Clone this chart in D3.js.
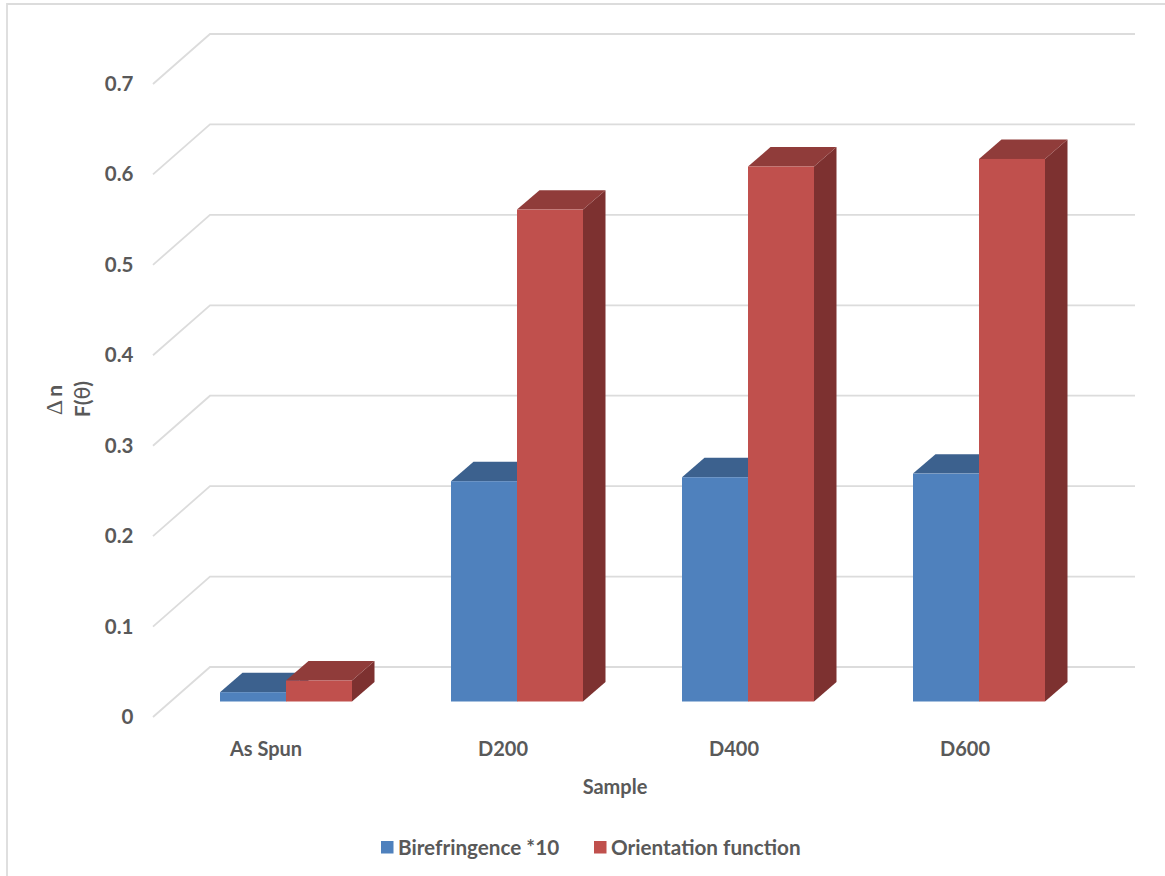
<!DOCTYPE html>
<html>
<head>
<meta charset="utf-8">
<script src="https://cdn.jsdelivr.net/npm/d3@7/dist/d3.min.js"></script>
<style>
  html, body { margin: 0; padding: 0; background: #fff; }
  svg { display: block; }
  text { font-family: Lato, "Open Sans", sans-serif; font-weight: 700; fill: #595959; }
</style>
</head>
<body>
<svg id="chart" width="1165" height="876"></svg>
<script>
const categories = ["As Spun", "D200", "D400", "D600"];
const birefringence = [0.0103, 0.2436, 0.248, 0.252];
const orientation = [0.0232, 0.544, 0.5916, 0.600];
const yTicks = [0, 0.1, 0.2, 0.3, 0.4, 0.5, 0.6, 0.7];
const seriesNames = ["Birefringence *10", "Orientation function"];

const svg = d3.select("#chart");

// Frame of the chart area
svg.append("path")
  .attr("d", "M7,876V4H1165")
  .attr("fill", "none").attr("stroke", "#dcdcdc").attr("stroke-width", 1.8);

// Value scale on the front plane of the floor, category scale across it
const yFloor = d3.scaleLinear().domain([0, 0.7]).range([717, 84]);
const x = d3.scaleBand().domain(categories).range([170.5, 1094.5]);
const groupWidth = 132;
const xInner = d3.scaleBand().domain([0, 1]).range([0, groupWidth]);

// Oblique projection of the plot's depth
const wall = { dx: 57, dy: -50 };       // floor front edge to back wall
const barInset = { dy: -15.5 };         // floor front edge to bar front face
const barDepth = { dx: 22.5, dy: -19.4 };
const wallRight = 1135;

// Gridlines: one slanted segment on the side wall and one along the back wall
const grid = svg.append("g").attr("fill", "none").attr("stroke", "#dcdcdc").attr("stroke-width", 1.8);
grid.selectAll("path").data(yTicks).join("path")
  .attr("d", d => {
    const y0 = yFloor(d);
    return `M${153},${y0}L${153 + wall.dx},${y0 + wall.dy}H${wallRight}`;
  });

// Bars: front face, top face and right face
const colours = [
  { front: "#4f81bd", top: "#3c618e", side: "#2f4d71" },
  { front: "#c0504d", top: "#903c3a", side: "#7d3130" }
];
const series = [birefringence, orientation];
const yBar = v => yFloor(v) + barInset.dy;
const yBase = yBar(0);

series.forEach((values, s) => {
  const g = svg.append("g").attr("class", "series-" + s);
  const c = colours[s];
  const left = (d, i) => x(categories[i]) + (x.bandwidth() - groupWidth) / 2 + xInner(s);
  const w = xInner.bandwidth();
  const dx = barDepth.dx, dy = barDepth.dy;

  g.selectAll("path.side").data(values).join("path").attr("class", "side")
    .attr("fill", c.side)
    .attr("d", (d, i) => {
      const r = left(d, i) + w, t = yBar(d);
      return `M${r},${yBase}L${r + dx},${yBase + dy}V${t + dy}L${r},${t}Z`;
    });
  g.selectAll("path.top").data(values).join("path").attr("class", "top")
    .attr("fill", c.top)
    .attr("d", (d, i) => {
      const l = left(d, i), t = yBar(d);
      return `M${l},${t}L${l + dx},${t + dy}H${l + w + dx}L${l + w},${t}Z`;
    });
  g.selectAll("rect.front").data(values).join("rect").attr("class", "front")
    .attr("fill", c.front)
    .attr("x", left).attr("width", w)
    .attr("y", d => yBar(d)).attr("height", d => yBase - yBar(d));
});

// Value axis labels
const yAxis = d3.axisLeft(yFloor).tickValues(yTicks).tickSize(0).tickPadding(0)
  .tickFormat(d => d === 0 ? "0" : d3.format(".1f")(d));
const yG = svg.append("g").attr("transform", "translate(133.5,0)").call(yAxis);
yG.select(".domain").remove();
yG.selectAll("text").attr("font-size", 20.5);

// Category axis labels
const xAxis = d3.axisBottom(x).tickSize(0).tickPadding(0);
const xG = svg.append("g").attr("transform", "translate(-14,742)").call(xAxis);
xG.select(".domain").remove();
xG.selectAll("text").attr("font-size", 20)
  .attr("dx", d => d === "As Spun" ? -6 : 0);

// Axis titles
svg.append("text").attr("x", 615).attr("y", 794).attr("text-anchor", "middle")
  .attr("font-size", 20).text("Sample");
const deltaTitle = svg.append("text").attr("transform", "translate(62,400) rotate(-90)")
  .attr("text-anchor", "middle").attr("font-size", 21);
deltaTitle.append("tspan").style("font-family", "'Liberation Serif'")
  .style("font-weight", 400).attr("font-size", 24).text("\u0394");
deltaTitle.append("tspan").attr("dx", 3).text("n");
const fTitle = svg.append("text").attr("transform", "translate(89.5,399) rotate(-90)")
  .attr("text-anchor", "middle").attr("font-size", 21);
fTitle.append("tspan").text("F(");
fTitle.append("tspan").style("font-family", "'DejaVu Sans'").style("font-weight", 400).text("\u03b8");
fTitle.append("tspan").text(")");

// Legend
const legendX = [381, 594];
const legend = svg.append("g").selectAll("g").data(seriesNames).join("g")
  .attr("transform", (d, i) => `translate(${legendX[i]},841)`);
legend.append("rect").attr("width", 12.5).attr("height", 12.5)
  .attr("fill", (d, i) => colours[i].front);
legend.append("text").attr("x", 17).attr("y", 13.5).attr("font-size", 20.7).text(d => d);
</script>
</body>
</html>
